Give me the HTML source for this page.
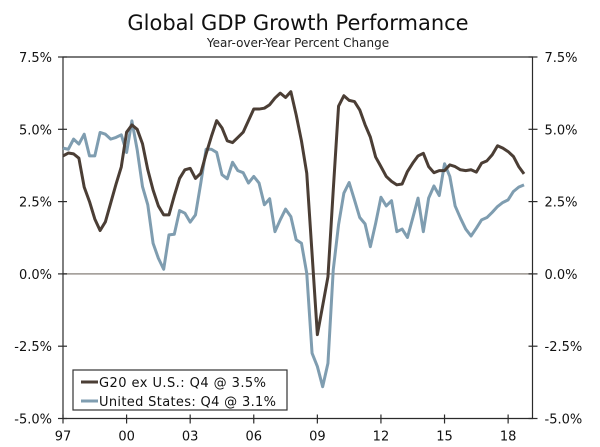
<!DOCTYPE html>
<html><head><meta charset="utf-8"><style>
html,body{margin:0;padding:0;background:#fff;}
svg{display:block;font-family:"DejaVu Sans","Liberation Sans",sans-serif;}
</style></head><body>
<svg id="chart" width="600" height="447" viewBox="0 0 600 447">
<text x="298" y="30" text-anchor="middle" font-size="21" fill="#111">Global GDP Growth Performance</text>
<text x="298" y="47" text-anchor="middle" font-size="12" fill="#222">Year-over-Year Percent Change</text>
<g id="axes"></g>
<g id="series"></g>
<g>
<rect x="73" y="370" width="214" height="40" fill="#fff" stroke="#333" stroke-width="1.2"/>
<line x1="81" y1="382" x2="98" y2="382" stroke="#4b3e35" stroke-width="3"/>
<text x="99" y="387" font-size="13" fill="#111" textLength="167">G20 ex U.S.: Q4 @ 3.5%</text>
<line x1="81" y1="401" x2="98" y2="401" stroke="#7f9db0" stroke-width="3"/>
<text x="99" y="406" font-size="13" fill="#111" textLength="177">United States: Q4 @ 3.1%</text>
</g>
</svg>
<script>
const yTicks = [7.5, 5.0, 2.5, 0.0, -2.5, -5.0];
const yTickLabels = ["7.5%", "5.0%", "2.5%", "0.0%", "-2.5%", "-5.0%"];
const xTickYears = [1997, 2000, 2003, 2006, 2009, 2012, 2015, 2018];
const xTickLabels = ["97", "00", "03", "06", "09", "12", "15", "18"];
const startYear = 1997;
const g20 = [4.08,4.18,4.15,4.0,3.0,2.5,1.9,1.5,1.8,2.45,3.1,3.7,4.9,5.15,5.0,4.5,3.6,2.9,2.35,2.04,2.04,2.7,3.3,3.6,3.65,3.3,3.48,4.15,4.75,5.3,5.05,4.6,4.54,4.72,4.9,5.3,5.7,5.7,5.73,5.85,6.08,6.25,6.1,6.3,5.5,4.6,3.48,0.7,-2.1,-1.1,-0.1,2.9,5.8,6.16,6.0,5.96,5.67,5.16,4.73,4.04,3.71,3.37,3.2,3.08,3.11,3.54,3.83,4.08,4.17,3.71,3.5,3.57,3.57,3.77,3.71,3.6,3.57,3.6,3.52,3.83,3.91,4.12,4.43,4.35,4.23,4.06,3.71,3.46];
const us = [4.35,4.31,4.66,4.49,4.83,4.08,4.08,4.89,4.83,4.66,4.72,4.81,4.2,5.29,4.29,3.02,2.39,1.06,0.54,0.16,1.35,1.37,2.19,2.1,1.79,2.04,3.14,4.31,4.31,4.2,3.43,3.29,3.86,3.57,3.5,3.14,3.37,3.14,2.39,2.6,1.46,1.87,2.24,1.98,1.18,1.06,0.02,-2.74,-3.2,-3.9,-3.09,0.14,1.7,2.79,3.16,2.56,1.95,1.73,0.94,1.75,2.65,2.35,2.53,1.46,1.55,1.26,1.93,2.62,1.46,2.62,3.04,2.71,3.81,3.37,2.35,1.93,1.55,1.31,1.58,1.87,1.95,2.13,2.33,2.47,2.56,2.85,3.0,3.08];

const L=63, R=532.5, T=57, B=418.5;
const yMin=-5, yMax=7.5, xMin=1997, xMax=2019.15;
const sx = v => L + (v - xMin) / (xMax - xMin) * (R - L);
const sy = v => B - (v - yMin) / (yMax - yMin) * (B - T);
const NS="http://www.w3.org/2000/svg";
const axes=document.getElementById('axes'), ser=document.getElementById('series');
function mk(tag, attrs, parent){const e=document.createElementNS(NS,tag);for(const k in attrs)e.setAttribute(k,attrs[k]);parent.appendChild(e);return e;}

let z=mk('line',{x1:L,x2:R,y1:sy(0),y2:sy(0),stroke:'#9a948f','stroke-width':1.5},axes);


let fr=mk('path',{d:`M${L},${B}V${T}H${R}V${B}H${L}`,fill:'none',stroke:'#2b2b2b','stroke-width':1.2},axes);



yTicks.forEach((v,i)=>{
  const y=sy(v);
  let t1=mk('line',{x1:L-5,x2:L+4,y1:y,y2:y,stroke:'#2b2b2b','stroke-width':1.2},axes);
  
  
  let t2=mk('line',{x1:R-4,x2:R+5,y1:y,y2:y,stroke:'#2b2b2b','stroke-width':1.2},axes);
  
  
  let a=mk('text',{x:L-11,y:y+5,'text-anchor':'end','font-size':13,fill:'#111'},axes);
  a.textContent=yTickLabels[i];
  
  
  let b=mk('text',{x:R+12,y:y+5,'text-anchor':'start','font-size':13,fill:'#111'},axes);
  b.textContent=yTickLabels[i];
  
  
});
xTickYears.forEach((yr,i)=>{
  const x=sx(yr);
  let t=mk('line',{x1:x,x2:x,y1:B-4,y2:B+5,stroke:'#2b2b2b','stroke-width':1.2},axes);
  
  
  let l=mk('text',{x:x,y:B+22,'text-anchor':'middle','font-size':13,fill:'#111'},axes);
  l.textContent=xTickLabels[i];
  
  
});
function line(data,color,name){
  const d=data.map((v,i)=>(i?'L':'M')+sx(startYear+i/4).toFixed(2)+','+sy(v).toFixed(2)).join('');
  const p=mk('path',{d:d,fill:'none',stroke:color,'stroke-width':3,'stroke-linejoin':'round'},ser);
  
  
}
line(us,'#7f9db0','us-growth-line');
line(g20,'#4b3e35','g20-ex-us-growth-line');
</script>
</body></html>
